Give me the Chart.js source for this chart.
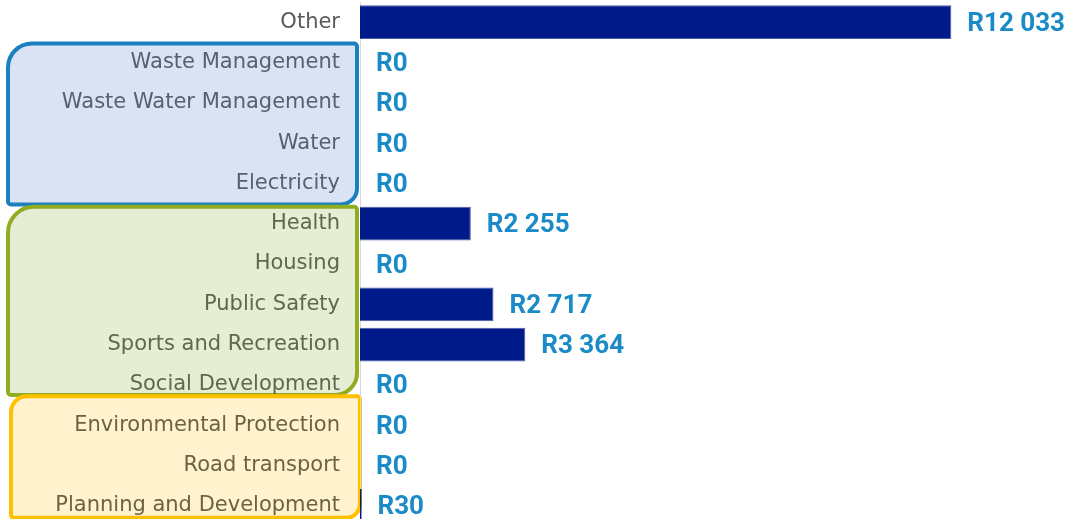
<!DOCTYPE html>
<html>
<head>
<meta charset="utf-8">
<script src="https://cdn.jsdelivr.net/npm/chart.js@4/dist/chart.umd.min.js"></script>
<style>
  html, body { margin: 0; padding: 0; background: #ffffff; overflow: hidden; }
  #wrap { width: 1073px; height: 519px; overflow: hidden; }
</style>
</head>
<body>
<div id="wrap">
  <canvas id="chart" width="1073" height="528"></canvas>
</div>
<script>
// Spending per function (Rand)
const categories = [
  'Other',
  'Waste Management',
  'Waste Water Management',
  'Water',
  'Electricity',
  'Health',
  'Housing',
  'Public Safety',
  'Sports and Recreation',
  'Social Development',
  'Environmental Protection',
  'Road transport',
  'Planning and Development'
];
const amounts = [12033, 0, 0, 0, 0, 2255, 0, 2717, 3364, 0, 0, 0, 30];

// which categories sit inside each coloured group box
const blueGroup = [1, 2, 3, 4];
const greenGroup = [5, 6, 7, 8, 9];
const yellowGroup = [10, 11, 12];

const COLORS = {
  bar: '#001a8a',
  barEdge: '#4a5aa8',
  value: '#1a8bc6',
  axis: '#d9d9d9',
  labelOther: '#595959',
  labelBlue: '#58606e',
  labelGreen: '#5e684e',
  labelYellow: '#6c6246'
};

// box styling: x extents, top/bottom pad from first/last band centre, corner radii
const GROUP_BOXES = [
  { rows: blueGroup, fill: '#dae3f3', stroke: '#1a80be', left: 8, right: 357, padTop: -19, padBottom: 21, radii: [24, 3, 16, 3] },
  { rows: greenGroup, fill: '#e7ecd4', stroke: '#90ad22', left: 8, right: 357, padTop: -17, padBottom: 10, radii: [26, 3, 22, 3] },
  { rows: yellowGroup, fill: '#fff2cc', stroke: '#ffc000', left: 11, right: 360, padTop: -29, padBottom: 12, radii: [16, 3, 14, 3] }
];

function labelColor(i) {
  if (blueGroup.includes(i)) return COLORS.labelBlue;
  if (greenGroup.includes(i)) return COLORS.labelGreen;
  if (yellowGroup.includes(i)) return COLORS.labelYellow;
  return COLORS.labelOther;
}

function formatRand(v) {
  return 'R' + String(v).replace(/\B(?=(\d{3})+(?!\d))/g, ' ');
}

const groupBoxPlugin = {
  id: 'groupBoxes',
  beforeDraw(chart) {
    const ctx = chart.ctx;
    const y = chart.scales.y;
    ctx.save();
    GROUP_BOXES.forEach(box => {
      const top = y.getPixelForValue(box.rows[0]) + box.padTop;
      const bottom = y.getPixelForValue(box.rows[box.rows.length - 1]) + box.padBottom;
      ctx.beginPath();
      ctx.roundRect(box.left, top, box.right - box.left, bottom - top, box.radii);
      ctx.fillStyle = box.fill;
      ctx.fill();
      ctx.lineWidth = 4;
      ctx.strokeStyle = box.stroke;
      ctx.stroke();
    });
    ctx.restore();
  }
};

const valueLabelPlugin = {
  id: 'valueLabels',
  afterDatasetsDraw(chart) {
    const ctx = chart.ctx;
    const meta = chart.getDatasetMeta(0);
    ctx.save();
    ctx.font = 'bold 26px Roboto';
    ctx.fillStyle = COLORS.value;
    ctx.textAlign = 'left';
    ctx.textBaseline = 'middle';
    meta.data.forEach((bar, i) => {
      ctx.fillText(formatRand(amounts[i]), bar.x + 16, bar.y + 2);
    });
    ctx.restore();
  }
};

new Chart(document.getElementById('chart'), {
  type: 'bar',
  data: {
    labels: categories,
    datasets: [{
      data: amounts,
      backgroundColor: COLORS.bar,
      borderColor: COLORS.barEdge,
      borderWidth: ctx => (amounts[ctx.dataIndex] > 100 ? 1 : 0),
      categoryPercentage: 1,
      barPercentage: 0.84
    }]
  },
  options: {
    indexAxis: 'y',
    responsive: false,
    animation: false,
    layout: { padding: { top: 2, bottom: 2, left: 0, right: 25 } },
    plugins: {
      legend: { display: false },
      tooltip: { enabled: false }
    },
    scales: {
      x: {
        display: false,
        min: 0,
        max: 14000
      },
      y: {
        afterFit(scale) {
          scale.width = 360;
          scale.paddingTop = 0;
          scale.paddingBottom = 0;
        },
        grid: { display: false, drawTicks: false },
        border: { display: true, color: COLORS.axis, width: 1 },
        ticks: {
          padding: 20,
          autoSkip: false,
          color: ctx => labelColor(ctx.index),
          font: { family: 'DejaVu Sans', size: 21 }
        }
      }
    }
  },
  plugins: [groupBoxPlugin, valueLabelPlugin]
});
</script>
</body>
</html>
